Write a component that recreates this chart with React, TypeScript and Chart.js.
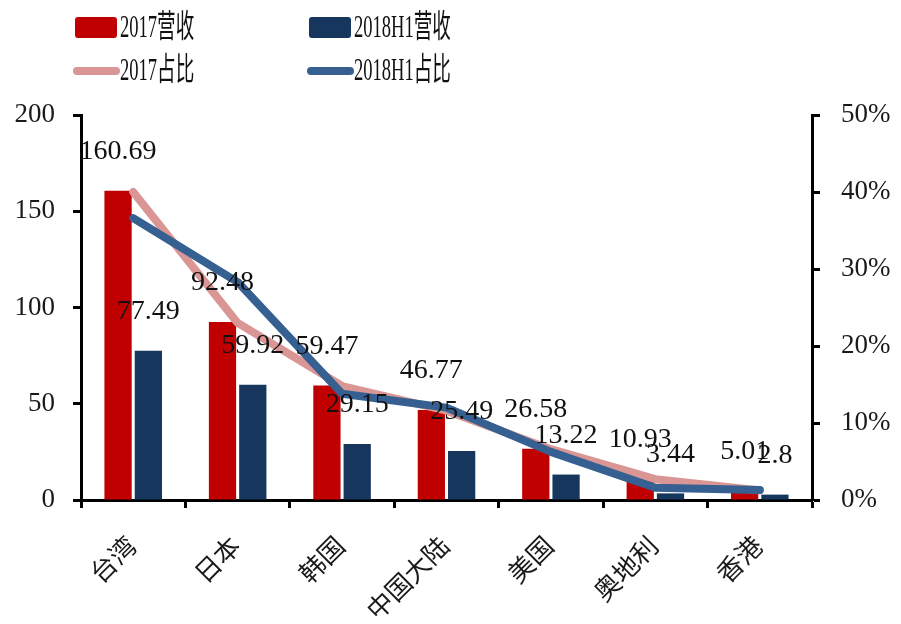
import React, { useEffect, useRef } from 'react';
import { Chart, registerables } from 'chart.js';

Chart.register(...registerables);

const categories = ['台湾', '日本', '韩国', '中国大陆', '美国', '奥地利', '香港'];
const revenue2017 = [160.69, 92.48, 59.47, 46.77, 26.58, 10.93, 5.01];
const revenue2018H1 = [77.49, 59.92, 29.15, 25.49, 13.22, 3.44, 2.8];
const share2017 = [0.4, 0.23, 0.148, 0.116, 0.066, 0.027, 0.0125];
const share2018H1 = [0.366, 0.283, 0.138, 0.12, 0.0625, 0.016, 0.013];
const seriesLabels = ['2017营收', '2018H1营收', '2017占比', '2018H1占比'];

const FONT = "'Liberation Serif', 'Noto Sans CJK SC', serif";
const TEXT = '#1a1a1a';

const dataLabelPlugin = {
  id: 'barValueLabels',
  afterDatasetsDraw(chart: any) {
    const ctx = chart.ctx;
    ctx.save();
    ctx.font = `28px ${FONT}`;
    ctx.fillStyle = '#111111';
    ctx.textAlign = 'center';
    ctx.textBaseline = 'middle';
    [0, 1].forEach((di) => {
      const meta = chart.getDatasetMeta(di);
      const values = chart.data.datasets[di].data;
      meta.data.forEach((el: any, i: number) => {
        ctx.fillText(String(values[i]), el.x, el.y - 39);
      });
    });
    ctx.restore();
  },
};

const legendPlugin = {
  id: 'gridLegend',
  afterDraw(chart: any) {
    const ctx = chart.ctx;
    const slots = [
      { x: 75, y: 27.5 },
      { x: 309, y: 27.5 },
      { x: 75, y: 71 },
      { x: 309, y: 71 },
    ];
    ctx.save();
    chart.data.datasets.forEach((ds: any, i: number) => {
      const s = slots[i];
      if (ds.type === 'line') {
        ctx.strokeStyle = ds.borderColor;
        ctx.lineWidth = 8;
        ctx.lineCap = 'round';
        ctx.beginPath();
        ctx.moveTo(s.x + 2, s.y);
        ctx.lineTo(s.x + 41, s.y);
        ctx.stroke();
      } else {
        ctx.fillStyle = ds.backgroundColor;
        ctx.beginPath();
        if (ctx.roundRect) ctx.roundRect(s.x, s.y - 10.5, 42, 21, 3);
        else ctx.rect(s.x, s.y - 10.5, 42, 21);
        ctx.fill();
      }
      ctx.save();
      ctx.translate(s.x + 45, s.y + 1);
      ctx.scale(0.58, 1);
      ctx.font = `32px ${FONT}`;
      ctx.fillStyle = '#111111';
      ctx.textAlign = 'left';
      ctx.textBaseline = 'middle';
      ctx.fillText(ds.label, 0, 0);
      ctx.restore();
    });
    ctx.restore();
  },
};

export default function App() {
  const canvasRef = useRef<HTMLCanvasElement | null>(null);

  useEffect(() => {
    document.body.style.margin = '0';
    const canvas = canvasRef.current;
    if (!canvas) return;
    const chart = new Chart(canvas, {
      type: 'bar',
      data: {
        labels: categories,
        datasets: [
          {
            type: 'bar',
            label: seriesLabels[0],
            data: revenue2017,
            backgroundColor: '#C00000',
            yAxisID: 'y',
            order: 3,
            categoryPercentage: 0.58,
            barPercentage: 0.9,
          },
          {
            type: 'bar',
            label: seriesLabels[1],
            data: revenue2018H1,
            backgroundColor: '#17365D',
            yAxisID: 'y',
            order: 3,
            categoryPercentage: 0.58,
            barPercentage: 0.9,
          },
          {
            type: 'line',
            label: seriesLabels[2],
            data: share2017,
            borderColor: '#D99694',
            backgroundColor: '#D99694',
            borderWidth: 8,
            pointRadius: 0,
            tension: 0,
            borderCapStyle: 'round',
            borderJoinStyle: 'round',
            yAxisID: 'y1',
            order: 2,
          },
          {
            type: 'line',
            label: seriesLabels[3],
            data: share2018H1,
            borderColor: '#366092',
            backgroundColor: '#366092',
            borderWidth: 8,
            pointRadius: 0,
            tension: 0,
            borderCapStyle: 'round',
            borderJoinStyle: 'round',
            yAxisID: 'y1',
            order: 1,
          },
        ] as any,
      },
      options: {
        animation: false,
        responsive: false,
        devicePixelRatio: 1,
        layout: { padding: { top: 115, left: 0, right: 0, bottom: 0 } },
        plugins: {
          legend: { display: false },
          tooltip: { enabled: false },
        },
        scales: {
          x: {
            type: 'category',
            offset: true,
            grid: {
              offset: true,
              drawOnChartArea: false,
              drawTicks: true,
              tickLength: 8,
              tickWidth: 3,
              tickColor: '#000',
            },
            border: { display: true, color: '#000', width: 3 },
            ticks: {
              font: { size: 26, family: FONT },
              color: TEXT,
              minRotation: 45,
              maxRotation: 45,
              padding: 24,
            },
            afterFit(scale: any) {
              scale.height = 124;
            },
          },
          y: {
            position: 'left',
            min: 0,
            max: 200,
            grid: {
              drawOnChartArea: false,
              drawTicks: true,
              tickLength: 8,
              tickWidth: 3,
              tickColor: '#000',
            },
            border: { display: true, color: '#000', width: 3 },
            ticks: {
              stepSize: 50,
              font: { size: 27, family: FONT },
              color: TEXT,
              padding: 18,
            },
            afterFit(scale: any) {
              scale.width = 81;
            },
          },
          y1: {
            position: 'right',
            min: 0,
            max: 0.5,
            grid: {
              drawOnChartArea: false,
              drawTicks: true,
              tickLength: 8,
              tickWidth: 3,
              tickColor: '#000',
            },
            border: { display: true, color: '#000', width: 3 },
            ticks: {
              stepSize: 0.1,
              font: { size: 27, family: FONT },
              color: TEXT,
              padding: 21,
              callback: (v: any) => `${Math.round(Number(v) * 100)}%`,
            },
            afterFit(scale: any) {
              scale.width = 89;
            },
          },
        },
      } as any,
      plugins: [dataLabelPlugin, legendPlugin],
    });
    return () => chart.destroy();
  }, []);

  return (
    <div style={{ width: 901, height: 624 }}>
      <canvas ref={canvasRef} width={901} height={624} style={{ display: 'block' }} />
    </div>
  );
}
